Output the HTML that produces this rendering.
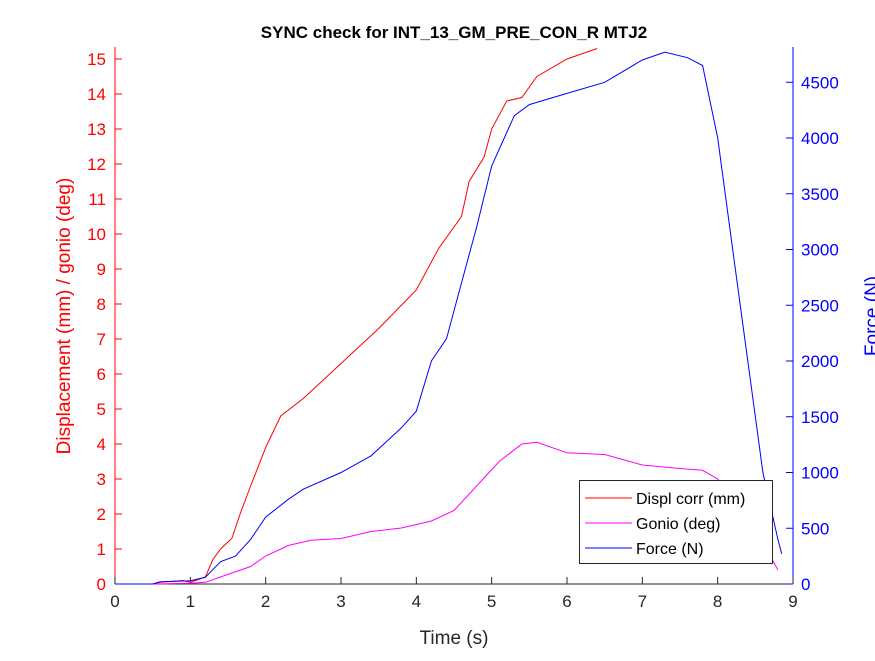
<!DOCTYPE html>
<html><head><meta charset="utf-8"><style>
body{margin:0;background:#fff;overflow:hidden;}
svg{font-family:"Liberation Sans",sans-serif;}
</style></head><body>
<svg id="c" width="875" height="656"></svg>
<script>
const tD=[0,0.5,0.6,0.9,1.0,1.2,1.3,1.4,1.55,1.66,1.8,2.0,2.2,2.5,3.0,3.5,4.0,4.3,4.6,4.7,4.9,5.0,5.2,5.4,5.6,6.0,6.4];
const displ=[0,0,0.05,0.1,0.05,0.2,0.7,1.0,1.3,2.0,2.8,3.9,4.8,5.3,6.3,7.3,8.4,9.6,10.5,11.5,12.2,13.0,13.8,13.9,14.5,15.0,15.3];
const tG=[0,0.5,1.0,1.2,1.4,1.8,2.0,2.3,2.6,3.0,3.4,3.8,4.2,4.5,4.8,5.1,5.4,5.6,6.0,6.5,7.0,7.5,7.8,8.0,8.3,8.6,8.8];
const gonio=[0,0,0.02,0.05,0.2,0.5,0.8,1.1,1.25,1.3,1.5,1.6,1.8,2.1,2.8,3.5,4.0,4.05,3.75,3.7,3.4,3.3,3.25,3.0,2.3,1.2,0.4];
const tF=[0,0.5,0.6,1.0,1.2,1.4,1.6,1.8,2.0,2.3,2.5,3.0,3.4,3.8,4.0,4.2,4.4,4.6,4.8,5.0,5.3,5.5,6.0,6.5,7.0,7.3,7.6,7.8,8.0,8.2,8.4,8.6,8.8,8.85];
const force=[0,0,20,30,60,200,250,400,600,760,850,1000,1150,1400,1550,2000,2200,2700,3200,3750,4200,4300,4400,4500,4700,4770,4720,4650,4000,3000,2000,1000,400,270];
const xTicks=[0,1,2,3,4,5,6,7,8,9];
const yLTicks=[0,1,2,3,4,5,6,7,8,9,10,11,12,13,14,15];
const yRTicks=[0,500,1000,1500,2000,2500,3000,3500,4000,4500];
const X0=115,X1=793,Y0=584,YT=47;
const sx=t=>X0+t*(X1-X0)/9;
const syL=v=>Y0-v*35;
const syR=v=>Y0-v*0.1115;
const svg=document.getElementById('c');
const NS='http://www.w3.org/2000/svg';
function mk(tag,attrs,txt){const e=document.createElementNS(NS,tag);for(const k in attrs)e.setAttribute(k,attrs[k]);if(txt!==undefined)e.textContent=txt;svg.appendChild(e);return e;}
let e;
e=mk('line',{x1:X0,y1:Y0,x2:X1,y2:Y0,stroke:'#262626'});


e=mk('line',{x1:X0,y1:Y0,x2:X0,y2:YT,stroke:'#ff0000'});


e=mk('line',{x1:X1,y1:Y0,x2:X1,y2:YT,stroke:'#0000ff'});


xTicks.forEach(t=>{const x=sx(t);
 e=mk('line',{x1:x,y1:Y0,x2:x,y2:Y0-7,stroke:'#262626'});
 
 
 e=mk('text',{x:x,y:Y0+23,'text-anchor':'middle','font-size':17,fill:'#262626'},t);
 
 });
yLTicks.forEach(v=>{const y=syL(v);
 e=mk('line',{x1:X0,y1:y,x2:X0+7,y2:y,stroke:'#ff0000'});
 
 
 e=mk('text',{x:X0-9,y:y+6,'text-anchor':'end','font-size':17,fill:'#ff0000'},v);
 
 });
yRTicks.forEach(v=>{const y=syR(v);
 e=mk('line',{x1:X1,y1:y,x2:X1-7,y2:y,stroke:'#0000ff'});
 
 
 e=mk('text',{x:X1+8,y:y+6,'text-anchor':'start','font-size':17,fill:'#0000ff'},v);
 
 });
function line(xs,ys,fy,col,name){const d=xs.map((t,i)=>(i?'L':'M')+sx(t).toFixed(1)+' '+fy(ys[i]).toFixed(1)).join(' ');
 const p=mk('path',{d:d,fill:'none',stroke:col,'stroke-width':1});
 
 }
line(tD,displ,syL,'#ff0000','displ-line');
line(tG,gonio,syL,'#ff00ff','gonio-line');
line(tF,force,syR,'#0000ff','force-line');
e=mk('text',{x:454,y:38,'text-anchor':'middle','font-size':17,'font-weight':'bold',fill:'#000'},'SYNC check for INT_13_GM_PRE_CON_R MTJ2');


e=mk('text',{x:454,y:644,'text-anchor':'middle','font-size':19,fill:'#262626'},'Time (s)');


e=mk('text',{x:0,y:0,'text-anchor':'middle','font-size':19,fill:'#ff0000',transform:'translate(70,316) rotate(-90)'},'Displacement (mm) / gonio (deg)');


e=mk('text',{x:0,y:0,'text-anchor':'middle','font-size':19,fill:'#0000ff',transform:'translate(878,316) rotate(-90)'},'Force (N)');


e=mk('rect',{x:579.5,y:480.5,width:193,height:83,fill:'#fff',stroke:'#262626'});


[['Displ corr (mm)','#ff0000'],['Gonio (deg)','#ff00ff'],['Force (N)','#0000ff']].forEach((l,i)=>{const y=498+i*25;
 e=mk('line',{x1:585,y1:y,x2:632,y2:y,stroke:l[1]});
 
 
 e=mk('text',{x:636,y:y+6,'font-size':16,fill:'#000'},l[0]);
 
 });
</script>
</body></html>
